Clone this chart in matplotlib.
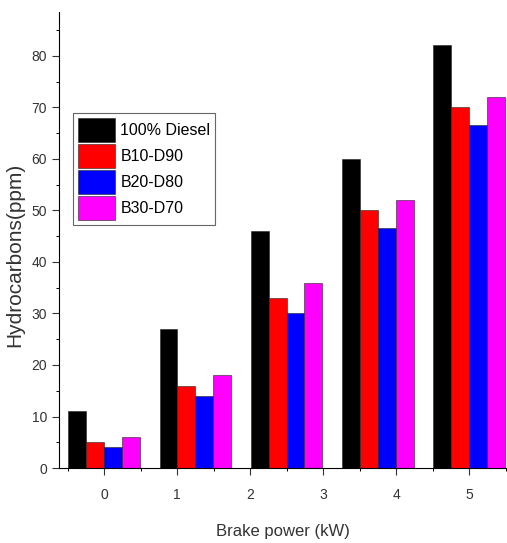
import matplotlib.pyplot as plt
import numpy as np
from matplotlib.ticker import MultipleLocator

plt.rcParams['font.family'] = ['Liberation Sans', 'DejaVu Sans']

# group positions on the brake power axis (as drawn in the original)
positions = [0, 1.25, 2.5, 3.75, 5]
series = ["100% Diesel", "B10-D90", "B20-D80", "B30-D70"]
diesel = [11, 27, 46, 60, 82]
b10 = [5, 16, 33, 50, 70]
b20 = [4, 14, 30, 46.5, 66.5]
b30 = [6, 18, 36, 52, 72]
colors = ["#000000", "#ff0000", "#0000ff", "#ff00ff"]

fig = plt.figure(figsize=(5.07, 5.43), dpi=100)
ax = fig.add_axes([0.116, 0.138, 0.884, 0.84])

width = 0.245
x = np.array(positions)
for i, (name, vals) in enumerate(zip(series, [diesel, b10, b20, b30])):
    ax.bar(x + (i - 1.5) * width, vals, width, color=colors[i], label=name,
           edgecolor="#222222", linewidth=0.4)

ax.set_xlim(-0.62, 5.52)
ax.set_ylim(0, 88.5)
ax.xaxis.set_major_locator(MultipleLocator(1))
ax.xaxis.set_minor_locator(MultipleLocator(0.5))
ax.yaxis.set_major_locator(MultipleLocator(10))
ax.yaxis.set_minor_locator(MultipleLocator(5))
ax.tick_params(which="major", length=5, width=0.8, labelsize=10, colors="#333333")
ax.tick_params(axis="x", which="major", pad=9)
ax.tick_params(which="minor", length=2.5, width=0.7)

for s in ["top", "right"]:
    ax.spines[s].set_visible(False)

ax.set_xlabel("Brake power (kW)", fontsize=12, color="#333333", labelpad=16)
ax.set_ylabel("Hydrocarbons(ppm)", fontsize=15, color="#333333")
ax.yaxis.set_label_coords(-0.078, 0.467)

leg = ax.legend(loc="upper left", bbox_to_anchor=(0.032, 0.778),
                prop={"size": 11.5},
                handlelength=2.3, handleheight=1.95, handletextpad=0.35,
                labelspacing=0.12, borderpad=0.3, fancybox=False, framealpha=1,
                edgecolor="#666666", borderaxespad=0)
leg.get_frame().set_linewidth(0.8)

fig.savefig("out.png", dpi=100)
